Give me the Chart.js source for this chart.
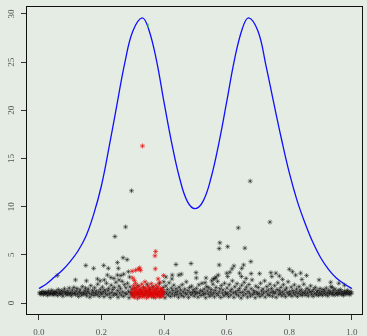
<!DOCTYPE html>
<html>
<head>
<meta charset="UTF-8">
<title>Curve and scatter</title>
<style>
  html, body { margin: 0; padding: 0; background: #e4ece3; }
  #wrap { width: 367px; height: 336px; }
</style>
</head>
<body>
<div id="wrap"><canvas id="chart" width="367" height="336"></canvas></div>
<script src="https://cdn.jsdelivr.net/npm/chart.js"></script>
<script>
// tick labels
const xTicks = [0, 0.2, 0.4, 0.6, 0.8, 1.0];
const yTicks = [0, 5, 10, 15, 20, 25, 30];

// blue curve
const curveX = [0, 0.025, 0.05, 0.075, 0.1, 0.125, 0.15, 0.175, 0.2, 0.225, 0.25, 0.275, 0.3, 0.33,
  0.35, 0.375, 0.4, 0.425, 0.45, 0.475, 0.5, 0.525, 0.55, 0.575, 0.6, 0.625, 0.65, 0.67,
  0.7, 0.725, 0.75, 0.775, 0.8, 0.825, 0.85, 0.875, 0.9, 0.925, 0.95, 0.975, 1.0];
const curveY = [1.5, 2.0, 2.7, 3.4, 4.3, 5.4, 6.9, 9.2, 12.2, 16.3, 20.7, 25.0, 28.2, 29.6,
  28.5, 25.3, 20.8, 16.5, 12.9, 10.5, 9.8, 10.6, 13.0, 16.6, 20.9, 25.3, 28.5, 29.6,
  28.2, 24.7, 20.8, 17.0, 13.5, 10.6, 8.3, 6.3, 4.7, 3.5, 2.6, 2.0, 1.5];

// black points: dense band near 1 and the scattered ones above it
const blackBand = [
  [0.002,1.05],[0.005,0.92],[0.008,1.12],[0.010,0.98],[0.013,1.20],[0.015,0.86],[0.018,1.03],[0.021,1.15],[0.023,0.95],[0.026,1.08],
  [0.028,0.80],[0.031,1.25],[0.033,1.00],[0.036,0.90],[0.038,1.10],[0.041,1.32],[0.043,0.97],[0.046,0.84],[0.048,1.18],[0.050,1.04],
  [0.052,0.93],[0.055,1.22],[0.057,1.06],[0.060,0.78],[0.062,1.40],[0.065,0.99],[0.067,1.14],[0.070,0.88],[0.072,1.30],[0.075,1.02],
  [0.077,0.72],[0.080,1.19],[0.082,1.48],[0.085,0.95],[0.087,1.09],[0.090,0.83],[0.092,1.26],[0.095,1.01],[0.097,1.55],[0.099,0.91],
  [0.102,1.12],[0.104,0.76],[0.107,1.35],[0.109,0.98],[0.112,1.62],[0.114,1.05],[0.117,0.85],[0.119,1.24],[0.122,1.50],[0.124,0.94],
  [0.127,0.68],[0.129,1.15],[0.132,1.38],[0.134,1.02],[0.137,0.80],[0.139,1.70],[0.142,1.08],[0.144,0.92],[0.147,1.28],[0.149,1.55],
  [0.151,0.97],[0.153,0.74],[0.156,1.20],[0.158,1.45],[0.161,1.03],[0.163,0.62],[0.166,1.80],[0.168,0.90],[0.171,1.32],[0.173,1.10],
  [0.176,0.78],[0.178,1.58],[0.181,1.00],[0.183,1.25],[0.186,0.86],[0.188,1.95],[0.191,1.14],[0.193,0.70],[0.196,1.42],[0.198,1.05],
  [0.201,0.92],[0.203,1.65],[0.206,1.18],[0.208,0.66],[0.211,1.36],[0.213,1.02],[0.216,2.05],[0.218,0.84],[0.221,1.27],[0.223,1.52],
  [0.226,0.95],[0.228,0.58],[0.231,1.85],[0.233,1.10],[0.236,1.40],[0.238,0.79],[0.241,1.62],[0.243,1.00],[0.246,2.15],[0.248,0.88],
  [0.251,1.30],[0.253,0.60],[0.256,1.75],[0.258,1.06],[0.261,1.48],[0.263,0.82],[0.266,2.25],[0.268,1.15],[0.271,0.70],[0.273,1.90],
  [0.276,1.02],[0.278,1.58],[0.281,0.92],[0.283,2.05],[0.286,1.22],[0.288,0.55],[0.291,1.68],[0.293,1.08],[0.296,0.85],[0.298,1.42],
  [0.301,1.00],[0.304,0.72],[0.307,1.55],[0.310,1.20],[0.313,0.90],[0.316,1.80],[0.319,1.05],[0.322,0.66],[0.325,1.35],[0.328,1.12],
  [0.331,0.95],[0.334,1.62],[0.337,0.80],[0.340,1.28],[0.343,1.00],[0.346,1.95],[0.349,0.74],[0.352,1.18],[0.355,1.45],[0.358,0.88],
  [0.361,1.08],[0.364,1.70],[0.367,0.62],[0.370,1.25],[0.373,0.98],[0.376,1.50],[0.379,0.84],[0.382,1.15],[0.385,2.00],[0.388,0.70],
  [0.391,1.35],[0.394,1.05],[0.397,1.62],[0.399,0.90],
  [0.401,1.20],[0.403,0.55],[0.406,1.78],[0.408,1.02],[0.411,1.40],[0.413,0.82],[0.416,2.10],[0.418,1.12],[0.421,0.68],[0.423,1.55],
  [0.426,0.96],[0.428,1.30],[0.431,1.85],[0.433,0.75],[0.436,1.08],[0.438,1.48],[0.441,0.88],[0.443,1.22],[0.446,0.60],[0.448,1.65],
  [0.451,1.00],[0.453,1.35],[0.456,0.80],[0.458,1.90],[0.461,1.15],[0.463,0.66],[0.466,1.45],[0.468,1.02],[0.471,2.20],[0.473,0.90],
  [0.476,1.28],[0.478,0.58],[0.481,1.60],[0.483,1.10],[0.486,0.84],[0.488,1.75],[0.491,1.05],[0.493,1.38],[0.496,0.72],[0.498,1.20],
  [0.501,0.95],[0.503,1.52],[0.506,1.10],[0.508,0.62],[0.511,1.88],[0.513,1.02],[0.516,1.32],[0.518,0.78],[0.521,2.05],[0.523,1.18],
  [0.526,0.88],[0.528,1.45],[0.531,1.00],[0.533,0.55],[0.536,1.70],[0.538,1.25],[0.541,0.92],[0.543,1.58],[0.546,0.70],[0.548,1.12],
  [0.551,1.40],[0.553,0.85],[0.556,1.95],[0.558,1.05],[0.561,0.64],[0.563,1.30],[0.566,1.62],[0.568,0.98],[0.571,2.25],[0.573,0.80],
  [0.576,1.15],[0.578,1.48],[0.581,0.58],[0.583,1.82],[0.586,1.02],[0.588,1.36],[0.591,0.74],[0.593,2.05],[0.596,1.12],[0.598,0.90],
  [0.601,1.55],[0.603,1.00],[0.606,0.66],[0.608,1.90],[0.611,1.22],[0.613,0.84],[0.616,1.42],[0.618,2.30],[0.621,1.05],[0.623,0.60],
  [0.626,1.68],[0.628,1.15],[0.631,0.92],[0.633,2.00],[0.636,1.30],[0.638,0.75],[0.641,1.52],[0.643,1.08],[0.646,0.52],[0.648,1.85],
  [0.651,1.12],[0.653,0.80],[0.656,2.15],[0.658,1.38],[0.661,0.95],[0.663,1.65],[0.666,0.62],[0.668,1.20],[0.671,1.92],[0.673,1.02],
  [0.676,0.72],[0.678,1.48],[0.681,2.40],[0.683,0.88],[0.686,1.28],[0.688,1.05],[0.691,0.56],[0.693,1.75],[0.696,1.15],[0.698,0.90],
  [0.701,1.60],[0.703,1.00],[0.706,0.68],[0.708,2.05],[0.711,1.25],[0.713,0.85],[0.716,1.45],[0.718,1.05],[0.721,2.30],[0.723,0.62],
  [0.726,1.18],[0.728,1.70],[0.731,0.92],[0.733,1.35],[0.736,0.78],[0.738,1.95],[0.741,1.08],[0.743,1.50],[0.746,0.70],[0.748,1.22],
  [0.751,0.98],[0.753,1.80],[0.756,1.12],[0.758,0.60],[0.761,1.40],[0.763,2.10],[0.766,0.88],[0.768,1.28],[0.771,1.02],[0.773,1.62],
  [0.776,0.74],[0.778,1.15],[0.781,1.90],[0.783,0.92],[0.786,1.35],[0.788,0.66],[0.791,1.55],[0.793,1.08],[0.796,2.20],[0.798,0.85],
  [0.801,1.20],[0.803,0.95],[0.806,1.65],[0.808,0.72],[0.811,1.30],[0.813,1.05],[0.816,1.88],[0.818,0.84],[0.821,1.15],[0.823,1.45],
  [0.826,0.68],[0.828,1.00],[0.831,1.70],[0.833,1.22],[0.836,0.90],[0.838,1.38],[0.841,0.78],[0.843,1.10],[0.846,1.95],[0.848,0.98],
  [0.851,1.25],[0.853,0.82],[0.856,1.52],[0.858,1.05],[0.861,0.74],[0.863,1.35],[0.866,1.12],[0.868,1.78],[0.871,0.90],[0.873,1.20],
  [0.876,0.70],[0.878,1.42],[0.881,1.00],[0.883,1.62],[0.886,0.86],[0.888,1.15],[0.891,1.30],[0.893,0.78],[0.896,1.05],[0.898,1.50],
  [0.901,0.92],[0.903,1.18],[0.906,0.80],[0.908,1.40],[0.911,1.02],[0.913,1.25],[0.916,0.86],[0.918,1.55],[0.921,1.08],[0.923,0.75],
  [0.926,1.32],[0.928,0.98],[0.931,1.15],[0.933,1.70],[0.936,0.88],[0.938,1.05],[0.941,1.28],[0.943,0.82],[0.946,1.45],[0.948,1.00],
  [0.951,1.12],[0.953,0.85],[0.956,1.30],[0.958,0.95],[0.961,1.08],[0.963,1.40],[0.966,0.88],[0.968,1.18],[0.971,1.00],[0.973,0.80],
  [0.976,1.25],[0.978,1.05],[0.981,0.92],[0.983,1.15],[0.986,1.32],[0.988,0.96],[0.991,1.10],[0.993,0.86],[0.996,1.20],[0.999,1.02]
];
const blackHigh = [
  [0.296,11.65],[0.277,7.9],[0.243,6.9],[0.269,4.7],[0.282,4.5],[0.150,3.9],[0.175,3.6],[0.207,3.9],[0.222,3.6],[0.251,4.2],
  [0.254,3.6],[0.438,4.0],[0.486,4.1],[0.059,2.85],[0.117,2.4],[0.152,2.3],[0.187,2.5],[0.196,2.3],[0.209,2.4],[0.219,2.9],
  [0.230,2.65],[0.240,2.55],[0.251,2.9],[0.256,2.4],[0.262,2.85],[0.286,3.25],[0.271,3.0],[0.290,2.7],[0.426,2.9],[0.425,2.5],
  [0.447,2.9],[0.455,3.0],[0.406,2.7],[0.399,2.2],[0.502,3.15],[0.503,2.6],[0.675,12.65],[0.738,8.4],[0.637,7.8],[0.578,6.25],
  [0.576,5.65],[0.603,5.85],[0.658,5.7],[0.576,3.95],[0.677,4.3],[0.623,3.85],[0.617,3.55],[0.610,3.2],[0.600,3.1],[0.603,2.75],
  [0.534,2.6],[0.557,2.5],[0.552,2.3],[0.566,2.7],[0.573,2.9],[0.648,3.6],[0.654,3.95],[0.641,3.1],[0.647,2.75],[0.662,2.55],
  [0.678,3.05],[0.705,3.05],[0.741,3.15],[0.744,2.75],[0.757,3.1],[0.768,2.8],[0.778,2.45],[0.800,3.5],[0.810,3.25],[0.820,2.9],
  [0.836,3.1],[0.855,2.85],[0.840,2.45],[0.895,2.4],[0.932,2.15],[0.958,2.05],[0.976,1.85],[0.937,1.6],[0.531,2.1],[0.562,2.55]
];

// red points: cluster near x = 0.35
const redPoints = [
  [0.296,1.10],[0.298,0.75],[0.300,1.45],[0.302,0.95],[0.303,1.80],[0.305,0.60],[0.306,1.25],[0.308,1.02],[0.309,2.05],[0.311,0.82],
  [0.312,1.55],[0.314,1.15],[0.315,0.50],[0.317,1.35],[0.318,0.92],[0.320,1.70],[0.321,1.05],[0.323,0.70],[0.324,1.42],[0.326,1.20],
  [0.327,0.88],[0.329,1.95],[0.330,1.00],[0.332,0.62],[0.333,1.30],[0.335,1.60],[0.336,0.80],[0.338,1.12],[0.339,2.20],[0.341,0.95],
  [0.342,1.48],[0.344,0.55],[0.345,1.25],[0.347,1.05],[0.348,1.75],[0.350,0.72],[0.351,1.35],[0.353,0.98],[0.354,1.58],[0.356,0.85],
  [0.357,1.18],[0.359,2.00],[0.360,0.65],[0.362,1.40],[0.363,1.02],[0.365,0.78],[0.366,1.62],[0.368,1.10],[0.369,0.90],[0.371,1.30],
  [0.372,0.58],[0.374,1.85],[0.375,1.00],[0.377,1.45],[0.378,0.75],[0.380,1.15],[0.381,1.68],[0.383,0.88],[0.384,1.25],[0.386,0.62],
  [0.387,1.05],[0.389,1.50],[0.390,0.80],[0.392,1.20],[0.393,0.95],[0.395,1.38],[0.396,0.70],[0.398,1.08],
  [0.331,16.3],[0.373,5.35],[0.371,4.9],[0.298,3.3],[0.309,3.4],[0.317,3.5],[0.322,3.65],[0.325,3.4],[0.372,3.55],[0.300,2.6],
  [0.381,2.5],[0.398,2.85],[0.386,2.15],[0.305,2.35]
];

// small green mark on the left peak
const greenMark = [[0.349, 28.8]];

const toXY = arr => arr.map(p => ({ x: p[0], y: p[1] }));

const boxPlugin = {
  id: 'box',
  afterDraw(chart) {
    const a = chart.chartArea, c = chart.ctx;
    c.save();
    c.strokeStyle = '#111';
    c.lineWidth = 1;
    c.strokeRect(Math.round(a.left) + 0.5, Math.round(a.top) + 0.5, Math.round(a.width), Math.round(a.height));
    c.restore();
  }
};

const tickFont = { family: 'Liberation Serif', size: 9 };

new Chart(document.getElementById('chart'), {
  type: 'scatter',
  data: {
    datasets: [
      {
        data: toXY(blackBand.concat(blackHigh)),
        order: 4,
        pointStyle: 'star',
        pointRadius: 2.5,
        borderWidth: 1,
        borderColor: 'rgba(0,0,0,0.45)'
      },
      {
        data: toXY(redPoints),
        order: 3,
        pointStyle: 'star',
        pointRadius: 2.5,
        borderWidth: 1,
        borderColor: 'rgba(230,0,0,0.6)'
      },
      {
        data: curveX.map((x, i) => ({ x: x, y: curveY[i] })),
        order: 2,
        showLine: true,
        borderColor: '#1010ff',
        borderWidth: 1.3,
        pointRadius: 0,
        tension: 0.4
      },
      {
        data: toXY(greenMark),
        order: 1,
        pointStyle: 'line',
        rotation: 90,
        pointRadius: 2,
        borderWidth: 1,
        borderColor: '#30d030'
      }
    ]
  },
  options: {
    responsive: false,
    animation: false,
    layout: { padding: { top: 6, right: 2, left: 0, bottom: 0 } },
    plugins: { legend: { display: false }, tooltip: { enabled: false } },
    scales: {
      x: {
        type: 'linear',
        min: -0.041,
        max: 1.032,
        afterBuildTicks: s => { s.ticks = xTicks.map(v => ({ value: v })); },
        afterFit: s => { s.height = 22; s.paddingLeft = 0; s.paddingRight = 0; },
        ticks: {
          callback: v => v.toFixed(1),
          font: tickFont,
          color: '#555',
          maxRotation: 0,
          padding: 7
        },
        grid: { drawOnChartArea: false, tickLength: 6, color: '#333' },
        border: { color: '#111', width: 1 }
      },
      y: {
        type: 'linear',
        min: -1.14,
        max: 30.83,
        afterBuildTicks: s => { s.ticks = yTicks.map(v => ({ value: v })); },
        afterFit: s => { s.width = 26; s.paddingTop = 0; s.paddingBottom = 0; },
        ticks: {
          font: tickFont,
          color: '#555',
          minRotation: 90,
          maxRotation: 90,
          crossAlign: 'center',
          padding: 5
        },
        grid: { drawOnChartArea: false, tickLength: 5, color: '#333' },
        border: { color: '#111', width: 1 }
      }
    }
  },
  plugins: [boxPlugin]
});
</script>
</body>
</html>
